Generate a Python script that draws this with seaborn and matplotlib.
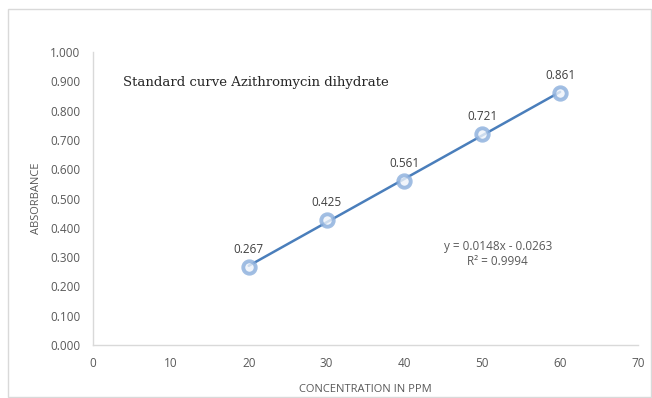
import matplotlib
matplotlib.use("Agg")
import matplotlib.pyplot as plt
import seaborn as sns
import numpy as np
import pandas as pd
from matplotlib.patches import Rectangle

concentration = [20, 30, 40, 50, 60]
absorbance = [0.267, 0.425, 0.561, 0.721, 0.861]
x_ticks = [0, 10, 20, 30, 40, 50, 60, 70]
y_ticks = [0.0, 0.1, 0.2, 0.3, 0.4, 0.5, 0.6, 0.7, 0.8, 0.9, 1.0]
title_text = "Standard curve Azithromycin dihydrate"
equation_text = "y = 0.0148x - 0.0263\nR² = 0.9994"

df = pd.DataFrame({"conc": concentration, "abs": absorbance})

sns.set_theme(style="white")
plt.rcParams['font.family'] = ['Open Sans', 'DejaVu Sans']

fig = plt.figure(figsize=(6.52, 3.98), dpi=100)
ax = fig.add_axes([0.1426, 0.1332, 0.9785 - 0.1426, 0.8693 - 0.1332])

tick_col = "#595959"
line_col = "#4a7ebb"
marker_col = "#8aaedc"

sns.regplot(data=df, x="conc", y="abs", ci=None, truncate=True, ax=ax,
            scatter_kws=dict(s=80, facecolor="#eef3fa", edgecolor=marker_col,
                             linewidths=2.8, zorder=3),
            line_kws=dict(color=line_col, lw=1.8, zorder=2))

ax.set_xlim(0, 70)
ax.set_ylim(0, 1.0)
ax.set_xticks(x_ticks)
ax.set_yticks(y_ticks)
ax.set_yticklabels([f"{v:.3f}" for v in y_ticks])
ax.tick_params(axis="both", colors=tick_col, labelsize=8.5, length=0, pad=9)
for s in ["top", "right"]:
    ax.spines[s].set_visible(False)
for s in ["left", "bottom"]:
    ax.spines[s].set_color("#d9d9d9")
    ax.spines[s].set_linewidth(1)

ax.set_xlabel("CONCENTRATION IN PPM", color=tick_col, fontsize=8, labelpad=10)
ax.set_ylabel("ABSORBANCE", color=tick_col, fontsize=8, labelpad=6)

for xv, yv in zip(concentration, absorbance):
    ax.annotate(f"{yv:.3f}", (xv, yv), xytext=(0, 8), textcoords="offset points",
                ha="center", va="bottom", fontsize=8.5, color="#404040")

ax.text(3.9, 0.895, title_text, family=["DejaVu Serif"],
        fontsize=9.5, color="#262626", va="center", ha="left")
ax.text(52, 0.31, equation_text, ha="center", va="center", fontsize=8.5,
        color="#595959", linespacing=1.2)

fig.patches.append(Rectangle((8 / 652, 1 / 398), 643 / 652, 388 / 398,
                             transform=fig.transFigure, fill=False,
                             edgecolor="#d9d9d9", lw=1))

fig.savefig("out.png", dpi=100)
